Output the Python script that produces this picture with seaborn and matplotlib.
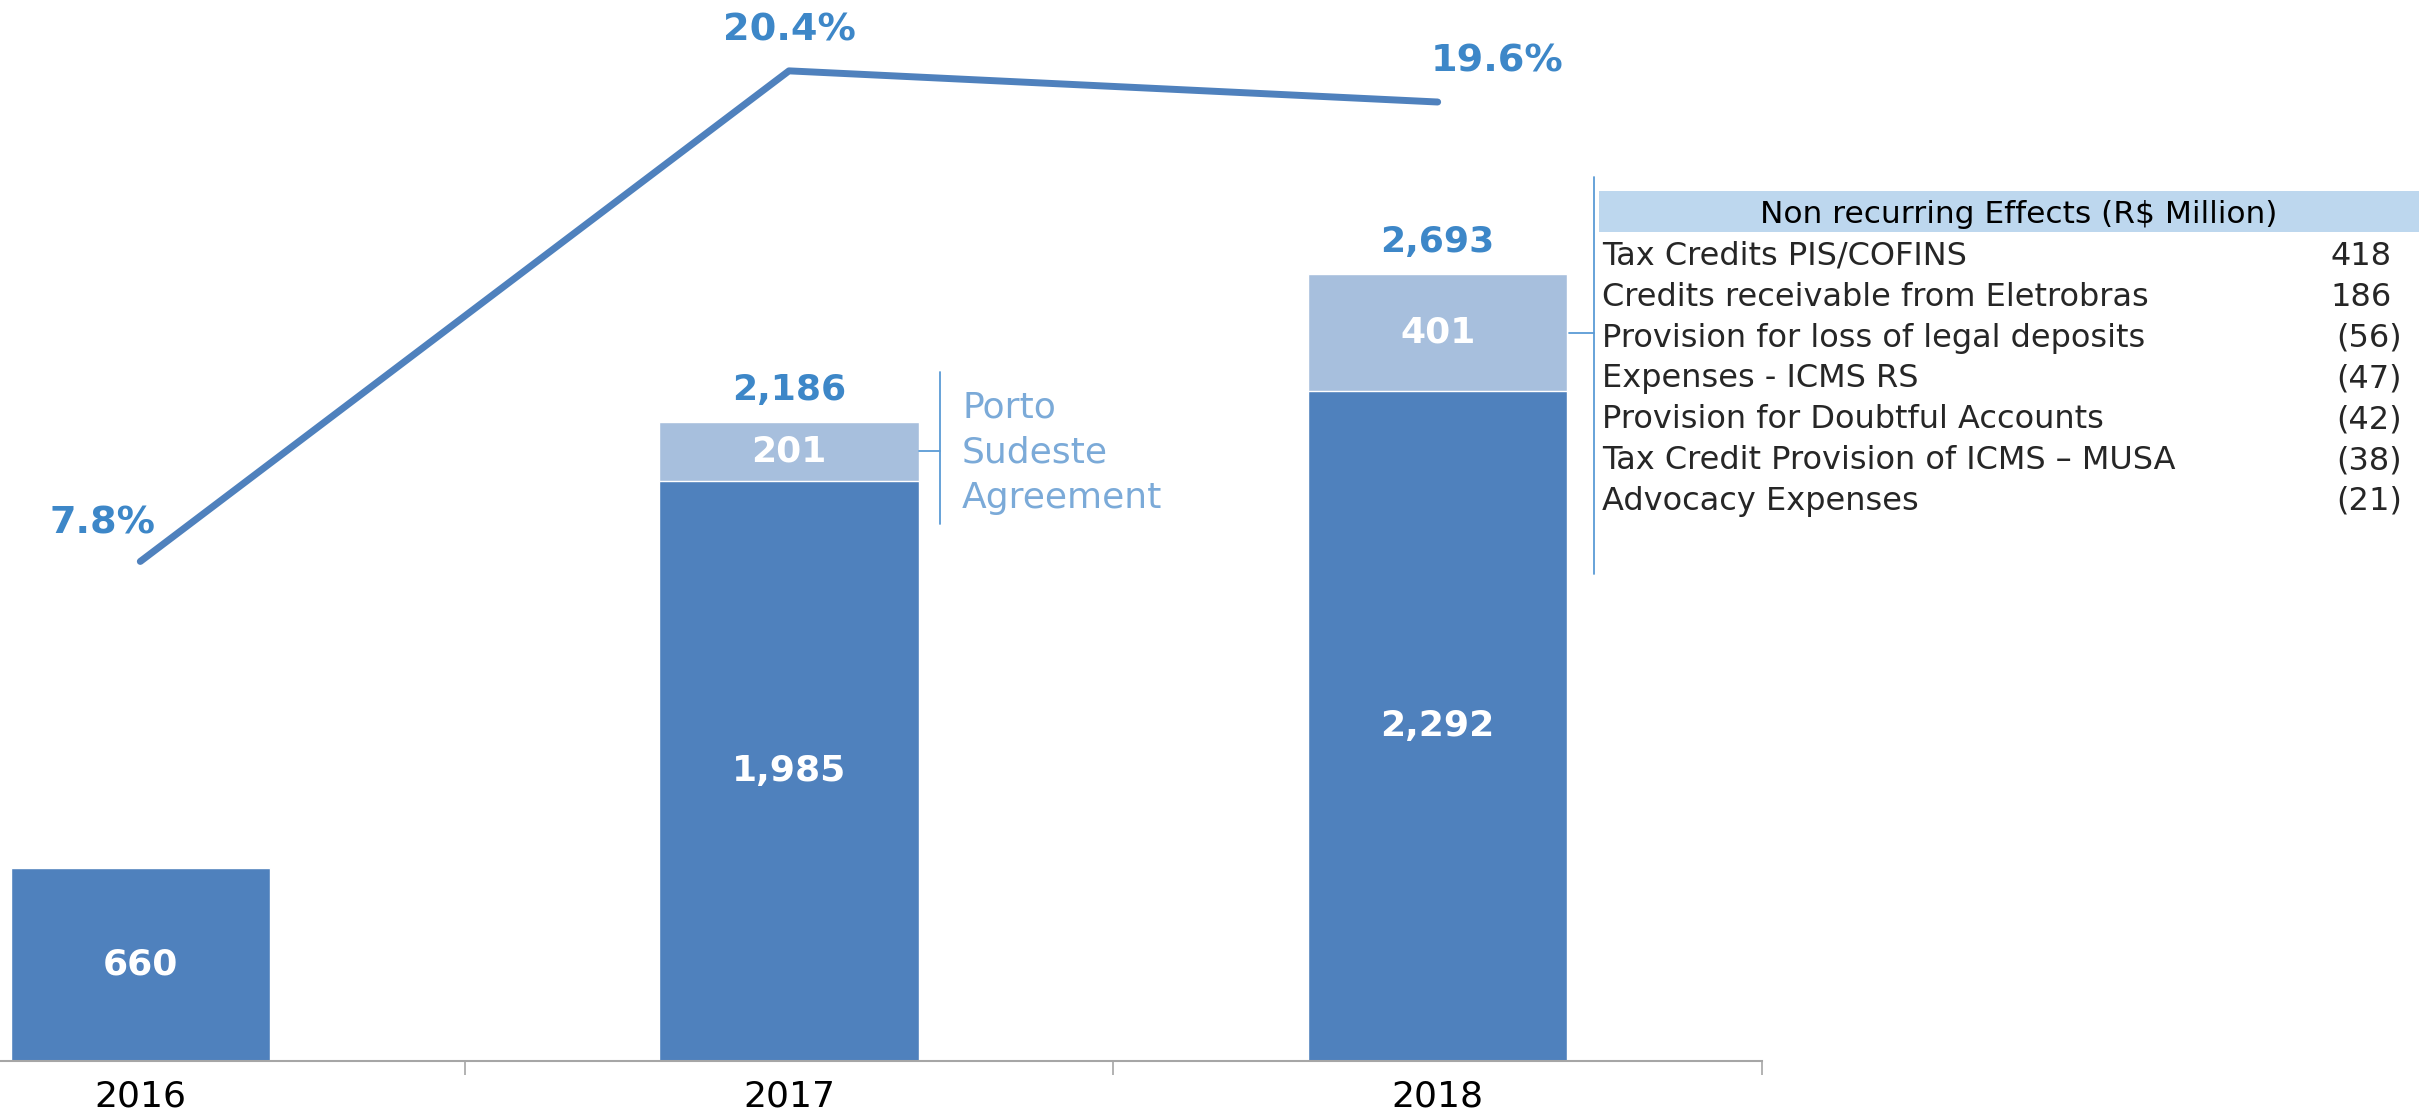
import matplotlib
matplotlib.use("Agg")
import matplotlib.pyplot as plt
import matplotlib.patches as mpatches
import seaborn as sns
import pandas as pd
from matplotlib.ticker import FixedLocator

# Data
years = ["2016", "2017", "2018"]
recurring = [660, 1985, 2292]
non_recurring = [0, 201, 401]
totals = [660, 2186, 2693]
margin_pct = [7.8, 20.4, 19.6]

effect_items = [
    "Tax Credits PIS/COFINS",
    "Credits receivable from Eletrobras",
    "Provision for loss of legal deposits",
    "Expenses - ICMS RS",
    "Provision for Doubtful Accounts",
    "Tax Credit Provision of ICMS \u2013 MUSA",
    "Advocacy Expenses",
]
effect_values = [418, 186, -56, -47, -42, -38, -21]

DARK = "#4F81BD"
LIGHT = "#A7BFDD"
LABEL_BLUE = "#3D87C8"
BRACKET = "#5B9BD5"

W, H = 2419, 1115
sns.set_style("white")
plt.rcParams["font.family"] = ["DejaVu Sans"]

df = pd.DataFrame({"year": years, "recurring": recurring,
                   "total": totals, "extra": non_recurring})

fig = plt.figure(figsize=(W / 100, H / 100), dpi=100)
ax = fig.add_axes([0, 54 / H, 1762 / W, 1061 / H])

# stacked bars: total (light) underneath, recurring (dark) on top
sns.barplot(data=df, x="year", y="total", order=years, color=LIGHT,
            width=0.4, saturation=1, ax=ax)
sns.barplot(data=df, x="year", y="recurring", order=years, color=DARK,
            width=0.4, saturation=1, ax=ax)

ax.set_xlim(-0.2163, 2.5)
ax.set_ylim(0, 3629)
ax.set_xlabel("")
ax.set_ylabel("")
ax.set_yticks([])
for s in ["top", "left", "right"]:
    ax.spines[s].set_visible(False)
ax.spines["bottom"].set_color("#A6A6A6")
ax.spines["bottom"].set_linewidth(1.5)
ax.xaxis.set_minor_locator(FixedLocator([0.5, 1.5, 2.5]))
ax.tick_params(axis="x", which="major", length=0, pad=13, labelsize=26,
               labelcolor="black")
ax.tick_params(axis="x", which="minor", bottom=True, length=10, width=1.2,
               color="#A6A6A6", direction="out")

# value labels
for i, (r, e, t) in enumerate(zip(recurring, non_recurring, totals)):
    ax.text(i, r / 2, f"{r:,}", ha="center", va="center", color="white",
            fontsize=26, fontweight="bold")
    if e:
        ax.text(i, r + e / 2, f"{e:,}", ha="center", va="center",
                color="white", fontsize=26, fontweight="bold")
        ax.annotate(f"{t:,}", (i, t), xytext=(0, 23), textcoords="offset points",
                    ha="center", va="center", color=LABEL_BLUE,
                    fontsize=26, fontweight="bold")

# margin line on secondary axis
ax2 = ax.twinx()
line_df = pd.DataFrame({"pos": range(len(years)), "pct": margin_pct})
sns.lineplot(data=line_df, x="pos", y="pct", ax=ax2, color=DARK,
             linewidth=5, solid_capstyle="round")
ax2.set_ylim(-5.03, 22.22)
ax2.set_xlim(-0.2163, 2.5)
ax2.axis("off")
offsets = [(-27, 27), (0, 29), (43, 29)]
for i, (p, off) in enumerate(zip(margin_pct, offsets)):
    ax2.annotate(f"{p:.1f}%", (i, p), xytext=off, textcoords="offset points",
                 ha="center", va="center", color=LABEL_BLUE,
                 fontsize=27.5, fontweight="bold")


def fx(px):
    return px / W


def fy(py):
    return 1 - py / H


# 2017 bracket + note
fig.add_artist(plt.Line2D([fx(919), fx(940)], [fy(451), fy(451)],
                          color=BRACKET, lw=1.3))
fig.add_artist(plt.Line2D([fx(940), fx(940)], [fy(372), fy(524)],
                          color=BRACKET, lw=1.3))
fig.text(fx(962), fy(508), "Porto\nSudeste\nAgreement", ha="left",
         va="baseline", color="#7BAAD8", fontsize=26, linespacing=1.42)

# 2018 bracket + table
fig.add_artist(plt.Line2D([fx(1569), fx(1594)], [fy(333), fy(333)],
                          color=BRACKET, lw=1.3))
fig.add_artist(plt.Line2D([fx(1594), fx(1594)], [fy(177), fy(574)],
                          color=BRACKET, lw=1.3))
fig.add_artist(mpatches.Rectangle((fx(1599), fy(232)), fx(W - 1599),
                                  (232 - 191) / H, color="#BDD7EE", lw=0))
fig.text(fx(2019), fy(223), "Non recurring Effects (R$ Million)",
         ha="center", va="baseline", fontsize=22.5, color="black")
for k, (item, val) in enumerate(zip(effect_items, effect_values)):
    y = fy(265 + k * 40.8)
    fig.text(fx(1602), y, item, ha="left", va="baseline", fontsize=23)
    if val < 0:
        fig.text(fx(2402), y, f"({abs(val)})", ha="right", va="baseline",
                 fontsize=23)
    else:
        fig.text(fx(2392), y, f"{val}", ha="right", va="baseline",
                 fontsize=23)

fig.savefig("out.png", dpi=100)
